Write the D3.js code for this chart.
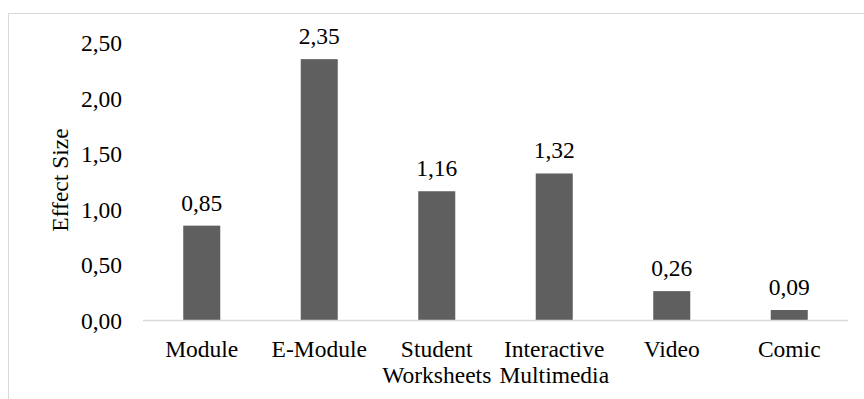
<!DOCTYPE html>
<html><head><meta charset="utf-8">
<script src="https://cdn.jsdelivr.net/npm/d3@7"></script>
<style>body{margin:0;padding:0;background:#fff}svg{display:block}</style>
</head><body>
<script>
const categories = [["Module"],["E-Module"],["Student","Worksheets"],["Interactive","Multimedia"],["Video"],["Comic"]];
const values = [0.85, 2.35, 1.16, 1.32, 0.26, 0.09];
const yTicks = [0, 0.5, 1.0, 1.5, 2.0, 2.5];
const yTitle = "Effect Size";

const W = 864, H = 399;
const m = {left:143, right:16, top:42.5, bottom:79};
const fmt = v => v.toFixed(2).replace(".", ",");
const FONT = '"Liberation Serif"';
const FS = "23.5px";
const styleText = sel => sel.style("font-family", FONT).style("font-size", FS).style("fill", "#000");

const svg = d3.select("body").append("svg").attr("width", W).attr("height", H);
svg.append("rect").attr("x", 8.5).attr("y", 13.5).attr("width", 900).attr("height", 500)
  .attr("fill", "none").attr("stroke", "#d9d9d9").attr("stroke-width", 1);

const x = d3.scaleBand().domain(d3.range(categories.length)).range([m.left, W - m.right]).paddingInner(0.685).paddingOuter(0.3425);
const y = d3.scaleLinear().domain([0, 2.5]).range([H - m.bottom, m.top]);

const g = svg.append("g");

g.selectAll("rect.bar").data(values).enter().append("rect").attr("class","bar")
  .attr("x", (d,i) => x(i)).attr("width", x.bandwidth())
  .attr("y", d => y(d)).attr("height", d => y(0) - y(d)).attr("fill", "#5f5f5f");

g.selectAll("text.val").data(values).enter().append("text").attr("class","val")
  .attr("x", (d,i) => x(i) + x.bandwidth()/2).attr("y", d => y(d) - 15)
  .attr("text-anchor", "middle").text(d => fmt(d)).call(styleText);

const yAxis = d3.axisLeft(y).tickValues(yTicks).tickFormat(fmt).tickSize(0).tickPadding(0);
const ya = g.append("g").attr("transform", `translate(${122},0)`).call(yAxis);
ya.attr("font-family", null).attr("font-size", null);
ya.select(".domain").remove();
ya.selectAll("text").attr("dy", "0.35em").call(styleText);

g.append("line").attr("x1", m.left).attr("x2", W - m.right).attr("y1", y(0) + 0.5).attr("y2", y(0) + 0.5)
  .attr("stroke", "#d9d9d9").attr("stroke-width", 1.3);

const xl = g.selectAll("text.cat").data(categories).enter().append("text").attr("class","cat")
  .attr("text-anchor", "middle").attr("y", 357).call(styleText);
xl.selectAll("tspan").data((d,i) => d.map(t => ({t, i}))).enter().append("tspan")
  .attr("x", d => x(d.i) + x.bandwidth()/2).attr("dy", (d,j) => j === 0 ? 0 : 26).text(d => d.t);

g.append("text").attr("transform", `translate(68,180) rotate(-90)`).attr("text-anchor", "middle").text(yTitle).call(styleText);
</script>
</body></html>
